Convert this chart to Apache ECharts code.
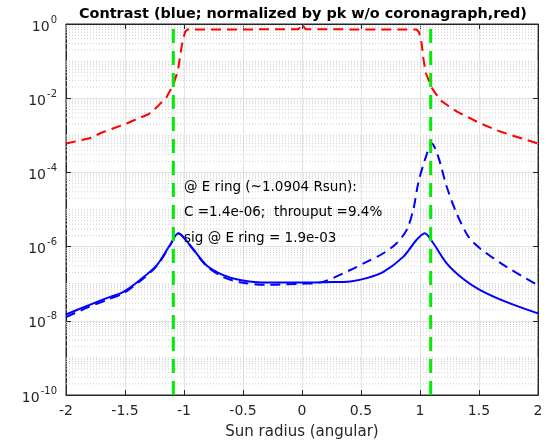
<!DOCTYPE html>
<html>
<head>
<meta charset="utf-8">
<script src="https://cdn.jsdelivr.net/npm/echarts@6/dist/echarts.min.js"></script>
<style>html,body{margin:0;padding:0;background:#fff;}#c{width:551px;height:440px;}</style>
</head>
<body>
<div id="c"></div>
<script>
// ---------- data ----------
const titleText = 'Contrast (blue; normalized by pk w/o coronagraph,red)';
const xAxisName = 'Sun radius (angular)';
const annotLines = ['@ E ring (~1.0904 Rsun):', 'C =1.4e-06;  throuput =9.4%', 'sig @ E ring = 1.9e-03'];
const eRing = 1.0904;

const redX = [-2.0, -1.8, -1.7, -1.5, -1.4, -1.3, -1.22, -1.15, -1.09, -1.05, -1.03, -1.01, -0.99, -0.97, -0.03, 0, 0.03, 0.97, 0.99, 1.01, 1.03, 1.05, 1.10, 1.17, 1.31, 1.51, 1.68, 2.0];
const redY = [6.0e-4, 8.3e-4, 1.17e-3, 2.0e-3, 2.75e-3, 3.7e-3, 6.2e-3, 1.05e-2, 2.3e-2, 5.8e-2, 0.16, 0.37, 0.62, 0.71, 0.72, 1.0, 0.72, 0.71, 0.62, 0.37, 0.11, 0.047, 0.019, 8.9e-3, 4.4e-3, 2.1e-3, 1.26e-3, 6.0e-4];

const blueX = [-2.0, -1.8, -1.655, -1.514, -1.373, -1.23, -1.119, -1.048, -0.949, -0.81, -0.667, -0.525, -0.3, 0, 0.2, 0.41, 0.548, 0.69, 0.86, 0.97, 1.04, 1.113, 1.226, 1.37, 1.51, 1.73, 2.0];
const blueY = [1.48e-8, 2.69e-8, 4.07e-8, 6.03e-8, 1.26e-7, 3.16e-7, 1.10e-6, 2.29e-6, 1.10e-6, 3.16e-7, 1.70e-7, 1.26e-7, 1.07e-7, 1.07e-7, 1.10e-7, 1.15e-7, 1.41e-7, 2.09e-7, 5.37e-7, 1.51e-6, 2.29e-6, 1.23e-6, 3.55e-7, 1.32e-7, 6.76e-8, 3.24e-8, 1.58e-8];

const blueDashX = [-2.0, -1.8, -1.655, -1.514, -1.373, -1.23, -1.119, -1.048, -0.949, -0.81, -0.667, -0.525, -0.3, 0, 0.15, 0.41, 0.548, 0.689, 0.802, 0.887, 0.943, 0.985, 1.05, 1.10, 1.155, 1.226, 1.31, 1.41, 1.51, 1.73, 2.0];
const blueDashY = [1.26e-8, 2.40e-8, 3.63e-8, 5.50e-8, 1.17e-7, 3.02e-7, 1.07e-6, 2.24e-6, 1.07e-6, 3.02e-7, 1.51e-7, 1.10e-7, 9.33e-8, 1.0e-7, 1.07e-7, 2.34e-7, 3.89e-7, 6.61e-7, 1.23e-6, 2.82e-6, 9.77e-6, 5.13e-5, 2.63e-4, 6.03e-4, 2.63e-4, 4.17e-5, 7.94e-6, 1.86e-6, 8.91e-7, 2.88e-7, 9.12e-8];

const yMin = 1e-10, yMax = 1;
const xMin = -2, xMax = 2, xStep = 0.5;
const minorMultipliers = [2, 3, 4, 5, 6, 7, 8, 9];
const minorExponents = [-10, -9, -8, -7, -6, -5, -4, -3, -2, -1];
const oddDecades = [1e-9, 1e-7, 1e-5, 1e-3, 1e-1];

// ---------- build ----------
const zip = (xs, ys) => xs.map((x, i) => [x, ys[i]]);
const minorValues = [];
minorExponents.forEach(e => minorMultipliers.forEach(m => minorValues.push(m * Math.pow(10, e))));
oddDecades.forEach(v => minorValues.push(v));

const axisColor = '#262626';
const FONT = 'DejaVu Sans';

const chart = echarts.init(document.getElementById('c'), null, { renderer: 'canvas' });
const supFmt = v => {
  const e = Math.round(Math.log10(v));
  return '{b|10}{s|' + e + '}';
};

const minorSeries = minorValues.map(v => ({
  type: 'line', data: [[xMin, v], [xMax, v]], showSymbol: false, symbol: 'none', silent: true, z: 1,
  lineStyle: { color: '#cfcfcf', width: 1, type: [1, 2] }
}));

const option = {
  animation: false,
  backgroundColor: '#fff',
  grid: { left: 66, right: 13, top: 24, bottom: 45, containLabel: false, outerBoundsMode: 'none', show: true, borderColor: axisColor, borderWidth: 1, backgroundColor: 'transparent' },
  xAxis: [
    {
      type: 'value', min: xMin, max: xMax, interval: xStep,
      axisLine: { show: true, onZero: false, lineStyle: { color: axisColor } },
      axisTick: { show: true, inside: true, length: 5, lineStyle: { color: axisColor } },
      axisLabel: { fontSize: 14, color: axisColor, margin: 9, fontFamily: FONT },
      splitLine: { show: true, lineStyle: { color: '#e3e3e3', width: 1 } },
      name: xAxisName, nameLocation: 'middle', nameGap: 30,
      nameTextStyle: { fontSize: 15, color: axisColor, fontFamily: FONT }
    },
    {
      type: 'value', position: 'top', min: xMin, max: xMax, interval: xStep,
      axisLine: { show: true, onZero: false, lineStyle: { color: axisColor } },
      axisTick: { show: true, inside: true, length: 5, lineStyle: { color: axisColor } },
      axisLabel: { show: false }, splitLine: { show: false }
    }
  ],
  yAxis: [
    {
      type: 'log', logBase: 10, min: yMin, max: yMax, interval: 2,
      axisLine: { show: true, onZero: false, lineStyle: { color: axisColor } },
      axisTick: { show: true, inside: true, length: 5, lineStyle: { color: axisColor } },
      axisLabel: {
        formatter: supFmt, margin: 9, fontFamily: FONT,
        rich: {
          b: { fontSize: 14, color: axisColor, fontFamily: FONT, padding: [6, 0, 0, 0] },
          s: { fontSize: 10, color: axisColor, fontFamily: FONT, padding: [0, 0, 8, 1] }
        }
      },
      splitLine: { show: true, lineStyle: { color: '#e3e3e3', width: 1 } }
    },
    {
      type: 'log', logBase: 10, min: yMin, max: yMax, interval: 2, position: 'right',
      axisLine: { show: true, onZero: false, lineStyle: { color: axisColor } },
      axisTick: { show: true, inside: true, length: 5, lineStyle: { color: axisColor } },
      axisLabel: { show: false }, splitLine: { show: false }
    }
  ],
  series: minorSeries.concat([
    {
      name: 'red', type: 'line', data: zip(redX, redY), showSymbol: false, symbol: 'none',
      lineStyle: { color: '#ff0000', width: 2, type: [10, 6] }, z: 3
    },
    {
      name: 'blueDash', type: 'line', data: zip(blueDashX, blueDashY), showSymbol: false, symbol: 'none', smooth: 0.3,
      lineStyle: { color: '#0000ff', width: 2, type: [10, 6] }, z: 3
    },
    {
      name: 'blue', type: 'line', data: zip(blueX, blueY), showSymbol: false, symbol: 'none', smooth: 0.3,
      lineStyle: { color: '#0000ff', width: 2 }, z: 4
    },
    {
      name: 'ringL', type: 'line', data: [[-eRing, yMin], [-eRing, yMax]], showSymbol: false, symbol: 'none',
      lineStyle: { color: '#00ee00', width: 3, type: [14, 8] }, z: 5
    },
    {
      name: 'ringR', type: 'line', data: [[eRing, yMin], [eRing, yMax]], showSymbol: false, symbol: 'none',
      lineStyle: { color: '#00ee00', width: 3, type: [14, 8] }, z: 5
    }
  ]),
  graphic: [
    { type: 'text', x: 303, y: 14, z: 100, style: { text: titleText, align: 'center', verticalAlign: 'middle', fontSize: 14.4, fontWeight: 'bold', fontFamily: FONT, fill: '#000' } },
    { type: 'text', x: 184, y: 187, z: 100, style: { text: annotLines[0], align: 'left', verticalAlign: 'middle', fontSize: 13.5, fontFamily: FONT, fill: '#000' } },
    { type: 'text', x: 184, y: 212, z: 100, style: { text: annotLines[1], align: 'left', verticalAlign: 'middle', fontSize: 13.5, fontFamily: FONT, fill: '#000' } },
    { type: 'text', x: 184, y: 238, z: 100, style: { text: annotLines[2], align: 'left', verticalAlign: 'middle', fontSize: 13.5, fontFamily: FONT, fill: '#000' } }
  ]
};
chart.setOption(option);
</script>
</body>
</html>
